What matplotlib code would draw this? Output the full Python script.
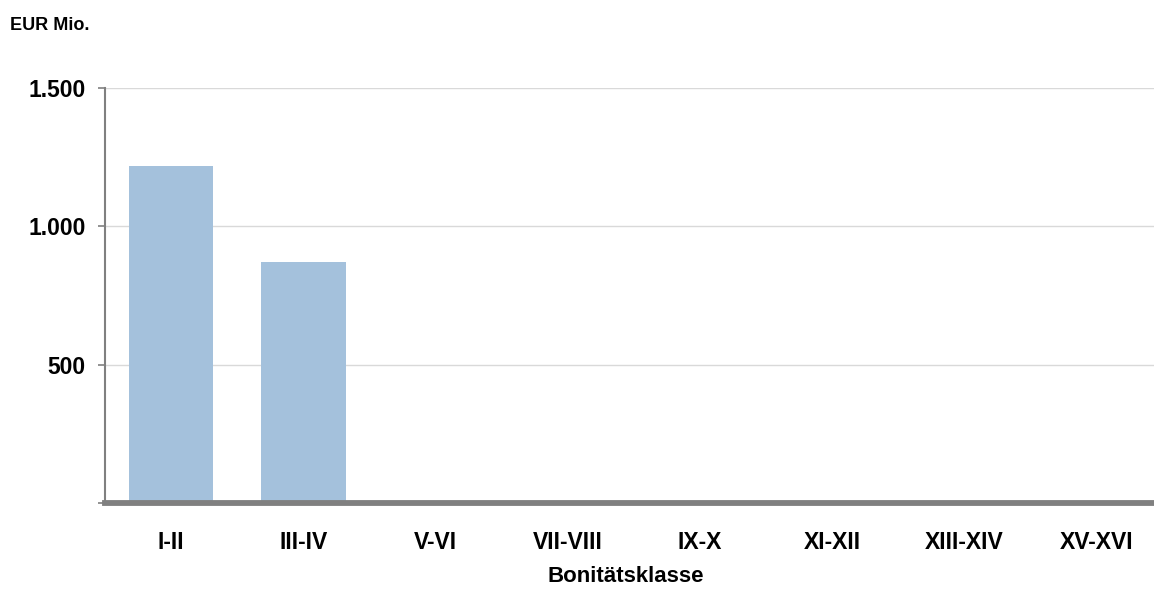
import matplotlib
matplotlib.use("Agg")
import matplotlib.pyplot as plt
from matplotlib.ticker import FuncFormatter

categories = ["I-II", "III-IV", "V-VI", "VII-VIII", "IX-X", "XI-XII", "XIII-XIV", "XV-XVI"]
values = [1217, 870, 0, 0, 0, 0, 0, 0]
yticks = [500, 1000, 1500]

plt.rcParams['font.family'] = ['Liberation Sans', 'DejaVu Sans']

fig = plt.figure(figsize=(11.54, 5.91), dpi=100)
ax = fig.add_axes([105/1154, 1-503/591, (1163-105)/1154, (503-87.5)/591])

x = list(range(len(categories)))
ax.bar(x, values, width=0.64, color="#a4c1dc", zorder=2)
ax.set_xlim(-0.5, len(categories)-0.5)
ax.set_ylim(0, 1500)
ax.set_yticks([0] + yticks)
ax.yaxis.set_major_formatter(FuncFormatter(lambda v, p: "" if v == 0 else f"{int(v):,}".replace(",", ".")))
ax.grid(axis="y", color="#d9d9d9", linewidth=1, zorder=0)
ax.set_xticks(x)
ax.set_xticklabels(categories, fontsize=16.5, fontweight="bold")
for lab in ax.get_yticklabels():
    lab.set_fontsize(16.5)
    lab.set_fontweight("bold")
ax.tick_params(axis="x", length=0, pad=20)
ax.tick_params(axis="y", length=5, width=1.2, color="#808080", pad=9)
for s in ["top", "right"]:
    ax.spines[s].set_visible(False)
ax.spines["left"].set_color("#808080")
ax.spines["left"].set_linewidth(1.5)
ax.spines["bottom"].set_color("#808080")
ax.spines["bottom"].set_linewidth(4.2)
ax.spines["bottom"].set_zorder(3)
fig.text(626/1154, 1-577/591, "Bonitätsklasse", fontsize=16, fontweight="bold", ha="center", va="center")
fig.text(10/1154, 1-26/591, "EUR Mio.", fontsize=13, fontweight="bold", va="center", ha="left")

fig.savefig("out.png", dpi=100)
